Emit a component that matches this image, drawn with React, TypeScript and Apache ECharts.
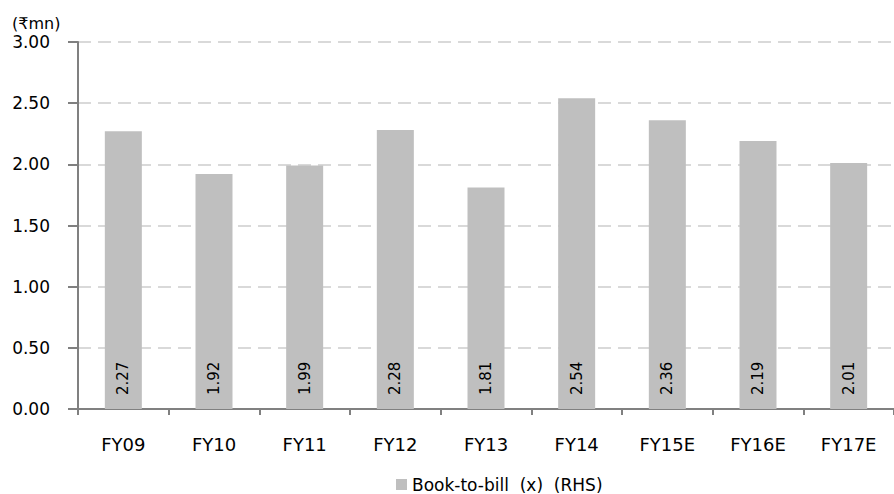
import React, { useEffect, useRef } from "react";
import * as echarts from "echarts";

const categories = ["FY09", "FY10", "FY11", "FY12", "FY13", "FY14", "FY15E", "FY16E", "FY17E"];
const bookToBill = [2.27, 1.92, 1.99, 2.28, 1.81, 2.54, 2.36, 2.19, 2.01];
const seriesName = "Book-to-bill  (x)  (RHS)";
const unitLabel = "(₹mn)";

const FONT = "'DejaVu Sans', 'Noto Sans', sans-serif";

export default function App() {
  const ref = useRef<HTMLDivElement>(null);
  useEffect(() => {
    if (!ref.current) return;
    const chart = echarts.init(ref.current, undefined, { renderer: "svg" });
    chart.setOption({
      animation: false,
      textStyle: { fontFamily: FONT },
      graphic: [
        {
          type: "text",
          left: 12,
          top: 15,
          style: { text: unitLabel, font: `16px ${FONT}`, fill: "#000" },
        },
      ],
      legend: {
        top: 476,
        left: 396,
        padding: 0,
        itemWidth: 11,
        itemHeight: 11,
        icon: "rect",
        itemGap: 6,
        textStyle: { fontSize: 17, color: "#000", fontFamily: FONT },
        data: [seriesName],
      },
      grid: { left: 78, right: -11, top: 42, bottom: 85, containLabel: false },
      xAxis: {
        type: "category",
        data: categories,
        axisLine: { lineStyle: { color: "#808080", width: 2 } },
        axisTick: { show: true, length: 6, lineStyle: { color: "#808080", width: 2 } },
        axisLabel: { color: "#000", fontSize: 18, margin: 26, fontFamily: FONT },
      },
      yAxis: {
        type: "value",
        min: 0,
        max: 3,
        interval: 0.5,
        axisLine: { show: true, lineStyle: { color: "#808080", width: 2 } },
        axisTick: { show: true, length: 10, lineStyle: { color: "#808080", width: 2 } },
        axisLabel: {
          color: "#000",
          fontSize: 17,
          margin: 28,
          fontFamily: FONT,
          formatter: (v: number) => v.toFixed(2),
        },
        splitLine: { show: true, lineStyle: { color: "#d9d9d9", width: 2, type: [13, 7] } },
      },
      series: [
        {
          name: seriesName,
          type: "bar",
          data: bookToBill,
          barWidth: 37,
          itemStyle: { color: "#bfbfbf" },
          label: {
            show: true,
            position: "insideBottom",
            rotate: 90,
            align: "left",
            verticalAlign: "middle",
            distance: 14,
            fontSize: 15,
            color: "#000",
            fontFamily: FONT,
            formatter: (p: any) => Number(p.value).toFixed(2),
          },
        },
      ],
    });
    return () => chart.dispose();
  }, []);
  return (
    <div
      ref={ref}
      style={{ position: "absolute", left: 0, top: 0, width: 894, height: 494, background: "#fff" }}
    />
  );
}
